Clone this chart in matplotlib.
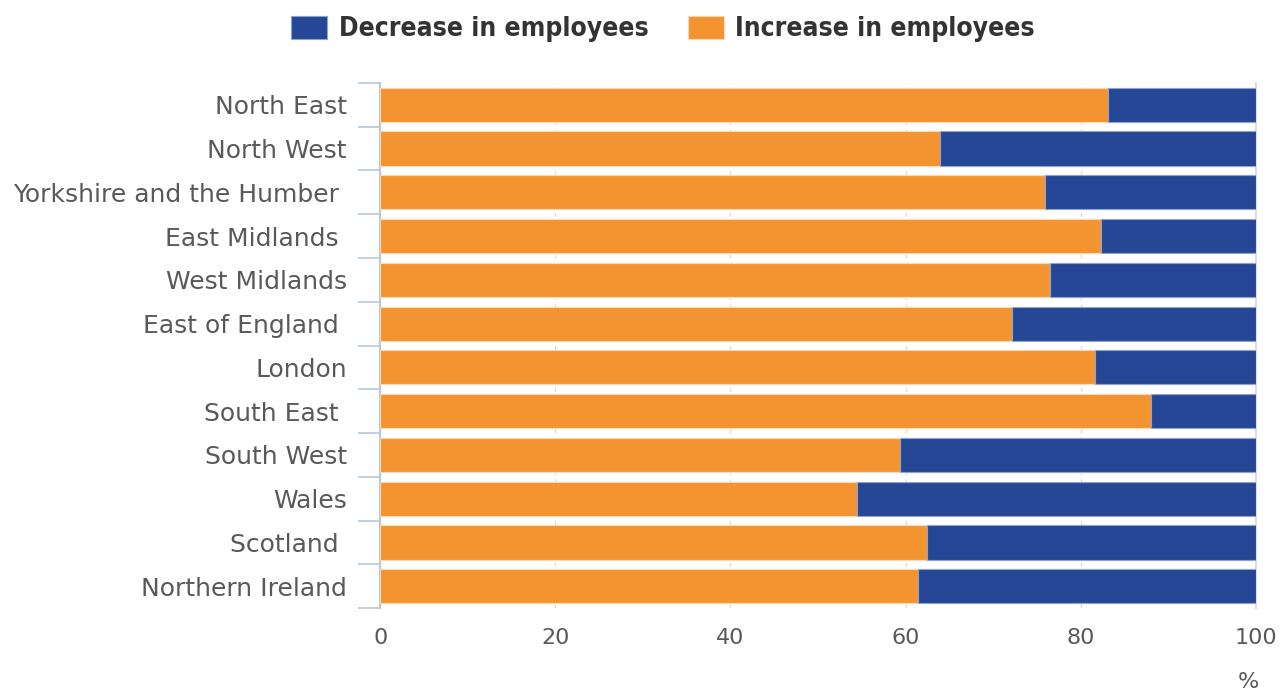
import matplotlib.pyplot as plt
import numpy as np

plt.rcParams["font.family"] = ["DejaVu Sans"]

regions = ["North East", "North West", "Yorkshire and the Humber ", "East Midlands ",
           "West Midlands", "East of England ", "London", "South East ", "South West",
           "Wales", "Scotland ", "Northern Ireland"]
increase = [83.1, 63.9, 75.9, 82.3, 76.5, 72.1, 81.6, 88.0, 59.4, 54.5, 62.4, 61.4]
decrease = [100 - v for v in increase]

orange = "#F39431"
blue = "#264796"
text_col = "#595959"
axis_col = "#B8C8D8"

fig = plt.figure(figsize=(12.8, 6.91), dpi=100)
ax = fig.add_axes([0.297, 0.12, 0.6842, 0.76])

y = np.arange(len(regions))
ax.barh(y, increase, height=0.78, color=orange, edgecolor="#FAD9B5", linewidth=0.8,
        label="Increase in employees", zorder=3)
ax.barh(y, decrease, left=increase, height=0.78, color=blue, edgecolor="#8FA3CC",
        linewidth=0.8, label="Decrease in employees", zorder=3)

ax.set_xlim(0, 100)
ax.set_ylim(len(regions) - 0.5, -0.5)
ax.set_yticks(y)
ax.set_yticklabels(regions)
ax.set_yticks(np.arange(-0.5, len(regions)), minor=True)
ax.tick_params(axis="y", which="major", length=0, pad=24, labelsize=18, labelcolor=text_col)
ax.tick_params(axis="y", which="minor", length=16, width=1.2, color=axis_col)

ax.set_xticks([0, 20, 40, 60, 80, 100])
ax.tick_params(axis="x", length=0, pad=14, labelsize=16, labelcolor=text_col)
ax.grid(axis="x", color="#DDDDDD", linestyle=(0, (3, 3)), linewidth=1, zorder=0)

for s in ["top", "bottom"]:
    ax.spines[s].set_visible(False)
ax.spines["left"].set_color(axis_col)
ax.spines["left"].set_linewidth(1.5)
ax.spines["right"].set_color("#DDDDDD")
ax.spines["right"].set_linewidth(1.5)

ax.text(0.991, -0.14, "%", transform=ax.transAxes, ha="center", va="center",
        fontsize=16, color=text_col)

handles, labels = ax.get_legend_handles_labels()
leg = fig.legend(handles[::-1], labels[::-1], loc="center", bbox_to_anchor=(0.518, 0.958),
                 ncol=2, frameon=False, handlelength=1.35, handleheight=1.0,
                 handletextpad=0.45, columnspacing=1.5,
                 prop={"family": "DejaVu Sans", "stretch": "condensed",
                       "weight": "bold", "size": 19})
for t in leg.get_texts():
    t.set_color("#333333")

fig.savefig("out.png", dpi=100)
